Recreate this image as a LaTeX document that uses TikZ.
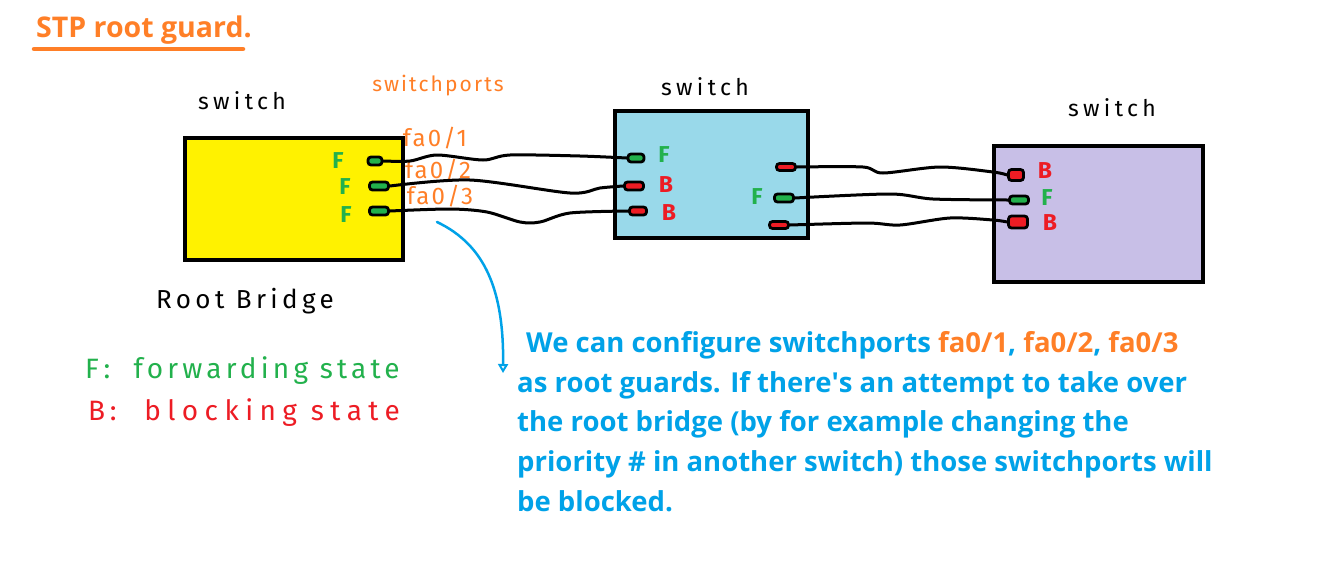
\documentclass[tikz,border=0pt]{standalone}
\usepackage{fontspec}
\setmainfont{Open Sans}
\newfontfamily\hand{Fira Sans}
\usetikzlibrary{arrows.meta}
\definecolor{porange}{HTML}{FF7F27}
\definecolor{pgreen}{HTML}{22B14C}
\definecolor{pred}{HTML}{ED1C24}
\definecolor{pyellow}{HTML}{FFF200}
\definecolor{pblue}{HTML}{99D9EA}
\definecolor{plav}{HTML}{C8BFE7}
\definecolor{tblue}{HTML}{00A2E8}
\newcommand{\ls}[1]{\addfontfeature{LetterSpace=#1}}
\tikzset{
  sw/.style={draw=black, line width=4pt, minimum width=#1},
  port/.style={draw=black, line width=2.8pt, rounded corners=3pt, minimum width=14pt, minimum height=8pt, inner sep=0pt},
  fwd/.style={port, fill=pgreen},
  blk/.style={port, fill=pred},
  wire/.style={draw=black, line width=3pt, line join=round, line cap=round},
  hlabel/.style={inner sep=0pt, font=\hand\fontsize{#1}{#1}\selectfont},
  stlabel/.style={inner sep=0pt, font=\hand\bfseries\fontsize{23}{23}\selectfont},
  maintext/.style={anchor=base west, inner sep=0pt, text=tblue, font=\bfseries\fontsize{27.5}{30}\selectfont},
}
\begin{document}
\begin{tikzpicture}[x=1pt, y=-1pt]
\useasboundingbox[fill=white] (0,0) rectangle (1340,576);

% title
\node[anchor=base west, inner sep=0pt, text=porange, font=\bfseries\fontsize{28.5}{30}\selectfont] (title) at (36,37) {STP root guard.};
\coordinate (u0) at (34,49);
\coordinate (u1) at (243,49);
\draw[porange, line width=4.5pt, line cap=round] (u0) -- (u1);

% switches
\node[sw=218pt, minimum height=122pt, fill=pyellow] (s1) at (294,199) {};
\node[sw=193pt, minimum height=127pt, fill=pblue] (s2) at (711.5,174.5) {};
\node[sw=209pt, minimum height=136pt, fill=plav] (s3) at (1098.5,214) {};

\node[hlabel=23] (sw1) at (242,101) {\ls{19}switch};
\node[hlabel=23] (sw2) at (705,87) {\ls{19}switch};
\node[hlabel=23] (sw3) at (1112,108) {\ls{19}switch};

\node[hlabel=21, text=porange] (swp) at (438,86) {\ls{10}switchports};
\node[hlabel=24, text=porange] (fa1) at (435,138) {\ls{9}fa0/1};
\node[hlabel=24, text=porange] (fa2) at (438,170) {\ls{9}fa0/2};
\node[hlabel=24, text=porange] (fa3) at (440,196) {\ls{9}fa0/3};

% ports switch 1
\node[fwd] (y1) at (375,161) {};
\node[fwd, minimum width=19pt] (y2) at (379,186) {};
\node[fwd, minimum width=19pt] (y3) at (379,211) {};
\node[stlabel, text=pgreen] (fy1) at (338,161) {F};
\node[stlabel, text=pgreen] (fy2) at (345,187) {F};
\node[stlabel, text=pgreen] (fy3) at (346,215) {F};

% ports switch 2
\node[fwd, minimum width=16pt] (b1) at (636,158) {};
\node[blk, minimum width=19pt] (b2) at (634,186) {};
\node[blk, minimum width=17pt] (b3) at (638,211) {};
\node[blk, minimum width=19pt, minimum height=7pt] (b4) at (786,167) {};
\node[fwd, minimum width=19pt] (b5) at (784,198) {};
\node[blk, minimum width=19pt, minimum height=7pt] (b6) at (779,225) {};
\node[stlabel, text=pgreen] (fb1) at (664,155) {F};
\node[stlabel, text=pred] (lb2) at (666,185) {B};
\node[stlabel, text=pred] (lb3) at (669,213) {B};
\node[stlabel, text=pgreen] (fb5) at (757,197) {F};

% ports switch 3
\node[blk, minimum width=15pt, minimum height=11pt] (p1) at (1016,175) {};
\node[fwd, minimum width=19pt] (p2) at (1019,200) {};
\node[blk, minimum width=19pt, minimum height=12pt] (p3) at (1018,222) {};
\node[stlabel, text=pred] (lp1) at (1045,171) {B};
\node[stlabel, text=pgreen] (fp2) at (1047,198) {F};
\node[stlabel, text=pred] (lp3) at (1050,223) {B};

% wires
\draw[wire] plot[smooth, tension=0.5] coordinates {(y1.east) (410,161) (437,155) (483,160) (510,155) (580,156) (b1.west)};
\draw[wire] plot[smooth, tension=0.5] coordinates {(y2.east) (470,180) (570,193) (600,188) (b2.west)};
\draw[wire] plot[smooth, tension=0.5] coordinates {(y3.east) (450,209) (487,212) (520,222) (540,222) (570,213) (b3.west)};
\draw[wire] plot[smooth, tension=0.5] coordinates {(b4.east) (863,167) (883,173) (940,167) (993,172) (p1.west)};
\draw[wire] plot[smooth, tension=0.5] coordinates {(b5.east) (890,194) (933,199) (p2.west)};
\draw[wire] plot[smooth, tension=0.5] coordinates {(b6.east) (867,223) (900,225) (950,218) (993,220) (p3.west)};

% root bridge & legend
\node[hlabel=26] (rb) at (245,301) {\ls{17}Root Bridge};
\node[hlabel=28, text=pgreen, anchor=west] (lf) at (85,371) {\ls{15}F\,:\ \ forwarding state};
\node[hlabel=28, text=pred, anchor=west] (lbk) at (88,413) {\ls{23}B\,:\ \ blocking state};

% arrow
\coordinate (a0) at (437,222);
\coordinate (a1) at (503,373);
\draw[tblue, line width=2.5pt, line cap=round, -{Triangle[open, length=9pt, width=10pt, line width=2pt]}] (a0) .. controls (485,245) and (504,290) .. (a1);

% main text
\node[maintext] (t1) at (526,352) {We can configure switchports \textcolor{porange}{fa0/1}, \textcolor{porange}{fa0/2}, \textcolor{porange}{fa0/3}};
\node[maintext] (t2) at (517,392) {as root guards. If there\textquotesingle s an attempt to take over};
\node[maintext] (t3) at (517,431) {the root bridge (by for example changing the};
\node[maintext] (t4) at (517,471) {priority \# in another switch) those switchports will};
\node[maintext] (t5) at (517,511) {be blocked.};
\end{tikzpicture}
\end{document}
